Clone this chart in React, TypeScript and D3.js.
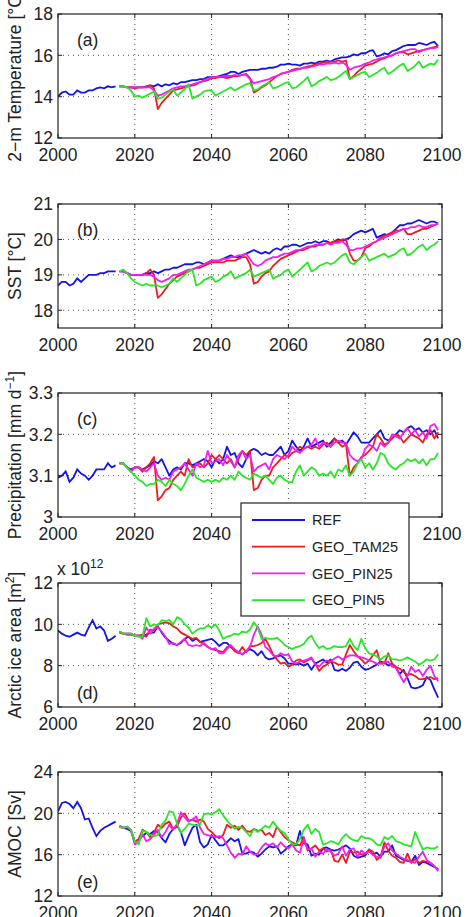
import React, { useEffect, useRef } from 'react';
import * as d3 from 'd3';

const HIST_START = 2000;
const RUN_START = 2016;
const xTicks = [2000, 2020, 2040, 2060, 2080, 2100];

const seriesNames = ['REF', 'GEO_TAM25', 'GEO_PIN25', 'GEO_PIN5'];
const seriesColors = ['#1414e6', '#ee1c1c', '#f01ef0', '#28e628'];

// (a) 2-m temperature [°C]
const tasRefHist = [14.0, 14.2, 14.25, 14.1, 14.1, 14.3, 14.2, 14.2, 14.3, 14.3, 14.4, 14.45, 14.4, 14.5, 14.45, 14.5];
const tasRef = [
  14.5, 14.5, 14.45, 14.45,
  14.45, 14.45, 14.45, 14.5, 14.55, 14.5, 14.6, 14.5, 14.6, 14.55,
  14.65, 14.6, 14.7, 14.7, 14.75, 14.8, 14.8, 14.85, 14.85, 14.95,
  14.95, 14.95, 15.0, 15.05, 15.1, 15.2, 15.2, 15.1, 15.2, 15.25,
  15.3, 15.3, 15.3, 15.35, 15.35, 15.4, 15.4, 15.45, 15.55, 15.55,
  15.6, 15.55, 15.55, 15.5, 15.6, 15.6, 15.65, 15.6, 15.7, 15.7,
  15.75, 15.7, 15.8, 15.85, 15.9, 15.9, 15.95, 16.05, 16.0, 16.1,
  16.1, 16.2, 16.25, 15.95, 16.0, 16.1, 16.05, 16.2, 16.25, 16.35,
  16.45, 16.5, 16.5, 16.5, 16.6, 16.55, 16.5, 16.6, 16.65, 16.45,
];
const tasTam25 = [
  14.5, 14.5, 14.45, 14.45,
  14.4, 14.45, 14.45, 14.45, 14.55, 14.4, 13.4, 13.7, 13.9, 14.1,
  14.3, 14.35, 14.4, 14.45, 14.5, 14.55, 14.6, 14.7, 14.75, 14.8,
  14.9, 14.9, 14.95, 14.95, 14.9, 14.95, 15.0, 15.0, 15.05, 15.1,
  14.9, 14.2, 14.3, 14.45, 14.55, 14.7, 14.85, 15.0, 15.1, 15.15,
  15.2, 15.3, 15.35, 15.35, 15.4, 15.45, 15.5, 15.55, 15.6, 15.65,
  15.65, 15.7, 15.7, 15.75, 15.7, 15.75, 14.85, 15.0, 15.2, 15.35,
  15.5, 15.55, 15.6, 15.7, 15.8, 15.85, 15.95, 16.0, 16.1, 16.15,
  16.15, 16.05, 16.1, 16.15, 16.2, 16.25, 16.3, 16.35, 16.4, 16.45,
];
const tasPin25 = [
  14.5, 14.5, 14.45, 14.45,
  14.45, 14.45, 14.45, 14.45, 14.45, 14.3, 14.05, 14.1, 14.2, 14.3,
  14.4, 14.45, 14.5, 14.5, 14.55, 14.6, 14.65, 14.7, 14.8, 14.85,
  14.95, 14.95, 14.95, 15.0, 15.0, 15.0, 15.05, 15.0, 15.05, 15.05,
  14.85, 14.65, 14.7, 14.75, 14.8, 14.85, 14.95, 15.0, 15.1, 15.15,
  15.2, 15.25, 15.3, 15.35, 15.4, 15.4, 15.45, 15.5, 15.55, 15.55,
  15.6, 15.6, 15.65, 15.6, 15.65, 15.55, 15.3, 15.4, 15.45, 15.5,
  15.6, 15.65, 15.75, 15.8, 15.85, 15.9, 15.95, 16.0, 16.1, 16.15,
  16.2, 16.25, 16.3, 16.3, 16.15, 16.25, 16.3, 16.35, 16.35, 16.4,
];
const tasPin5 = [
  14.5, 14.5, 14.45, 14.3,
  14.0, 14.05, 13.95, 14.05, 14.15, 14.25, 13.9, 13.95, 14.1, 14.25,
  14.35, 14.05, 14.2, 14.35, 14.6, 13.9, 14.0, 14.1, 14.25, 14.3,
  14.3, 14.05, 14.15, 14.25, 14.35, 14.45, 14.3, 14.4, 14.5, 14.6,
  14.65, 14.3, 14.35, 14.5, 14.6, 14.7, 14.4, 14.45, 14.55, 14.65,
  14.7, 14.4, 14.45, 14.6, 14.75, 14.95, 14.5, 14.6, 14.75, 14.85,
  14.95, 14.8, 14.85, 14.95, 15.1, 15.25, 14.85, 14.95, 15.05, 15.15,
  15.2, 14.95, 15.05, 15.15, 15.3, 15.4, 15.1, 15.2, 15.35, 15.5,
  15.6, 15.25, 15.35, 15.5, 15.7, 15.4, 15.5, 15.6, 15.55, 15.8,
];

// (b) sea surface temperature [°C]
const sstRefHist = [18.7, 18.8, 18.8, 18.7, 18.75, 18.9, 18.8, 18.9, 19.0, 19.0, 19.0, 19.05, 19.05, 19.1, 19.1, 19.1];
const sstRef = [
  19.1, 19.1, 19.05, 19.0,
  19.0, 19.0, 19.0, 19.05, 19.05, 19.1, 19.05, 19.1, 19.15, 19.15,
  19.2, 19.2, 19.25, 19.3, 19.3, 19.3, 19.35, 19.35, 19.3, 19.35,
  19.4, 19.4, 19.4, 19.45, 19.5, 19.55, 19.5, 19.5, 19.55, 19.6,
  19.65, 19.7, 19.65, 19.6, 19.65, 19.6, 19.7, 19.75, 19.7, 19.8,
  19.8, 19.85, 19.85, 19.8, 19.85, 19.9, 19.9, 19.95, 19.9, 19.95,
  19.95, 19.9, 19.95, 20.0, 19.95, 20.0, 20.05, 20.15, 20.2, 20.25,
  20.2, 20.25, 20.3, 20.05, 20.1, 20.15, 20.1, 20.2, 20.3, 20.4,
  20.4, 20.45, 20.45, 20.5, 20.55, 20.5, 20.45, 20.5, 20.5, 20.45,
];
const sstTam25 = [
  19.1, 19.1, 19.05, 19.0,
  19.0, 19.0, 19.0, 19.05, 19.15, 19.0, 18.35, 18.45, 18.6, 18.75,
  18.85, 18.95, 19.0, 19.05, 19.1, 19.15, 19.2, 19.2, 19.25, 19.3,
  19.35, 19.35, 19.35, 19.35, 19.4, 19.4, 19.4, 19.45, 19.5, 19.5,
  19.3, 18.75, 18.8, 18.95, 19.05, 19.1, 19.25, 19.35, 19.45, 19.5,
  19.55, 19.6, 19.65, 19.7, 19.7, 19.75, 19.8, 19.8, 19.85, 19.85,
  19.9, 19.9, 19.95, 19.95, 20.0, 20.0, 19.6, 19.4, 19.4, 19.5,
  19.75, 19.8, 19.9, 19.95, 20.05, 20.1, 20.15, 20.2, 20.25, 20.25,
  20.3, 20.15, 20.15, 20.2, 20.25, 20.3, 20.3, 20.35, 20.4, 20.45,
];
const sstPin25 = [
  19.1, 19.1, 19.05, 19.0,
  19.0, 19.0, 19.0, 19.0, 19.0, 18.95, 18.85, 18.8, 18.85, 18.9,
  19.0, 19.0, 19.05, 19.1, 19.15, 19.15, 19.2, 19.25, 19.3, 19.35,
  19.4, 19.4, 19.4, 19.45, 19.45, 19.5, 19.5, 19.55, 19.55, 19.6,
  19.45, 19.3, 19.25, 19.3, 19.4, 19.45, 19.5, 19.5, 19.55, 19.6,
  19.6, 19.65, 19.7, 19.7, 19.75, 19.8, 19.8, 19.85, 19.85, 19.85,
  19.9, 19.85, 19.9, 19.9, 19.95, 19.85, 19.7, 19.7, 19.75, 19.75,
  19.8, 19.85, 19.9, 19.95, 20.0, 20.05, 20.1, 20.15, 20.2, 20.25,
  20.3, 20.3, 20.35, 20.35, 20.4, 20.35, 20.35, 20.4, 20.4, 20.45,
];
const sstPin5 = [
  19.1, 19.15, 19.05, 18.9,
  18.8, 18.75, 18.7, 18.75, 18.7, 18.7, 18.7, 18.65, 18.7, 18.75,
  18.9, 18.8, 18.9, 19.0, 19.1, 19.15, 18.7, 18.75, 18.85, 18.9,
  18.95, 18.8, 18.85, 18.95, 19.0, 19.1, 18.9, 18.95, 19.0, 19.05,
  19.15, 18.95, 19.0, 19.05, 19.1, 19.15, 18.9, 18.95, 19.0, 19.1,
  19.15, 18.95, 19.05, 19.15, 19.25, 19.35, 19.1, 19.15, 19.25, 19.3,
  19.35, 19.3, 19.35, 19.45, 19.55, 19.6, 19.35, 19.3, 19.4, 19.5,
  19.6, 19.4, 19.45, 19.5, 19.55, 19.6, 19.5, 19.55, 19.6, 19.7,
  19.75, 19.55, 19.6, 19.7, 19.8, 19.85, 19.7, 19.8, 19.85, 19.95,
];

// (c) precipitation [mm/day]
const prRefHist = [3.095, 3.1, 3.11, 3.085, 3.095, 3.115, 3.105, 3.1, 3.09, 3.1, 3.115, 3.115, 3.115, 3.13, 3.12, 3.125];
const prRef = [
  3.13, 3.13, 3.12, 3.115,
  3.12, 3.12, 3.115, 3.12, 3.125, 3.135, 3.13, 3.14, 3.12, 3.1,
  3.115, 3.12, 3.115, 3.13, 3.13, 3.125, 3.13, 3.135, 3.14, 3.135,
  3.12, 3.14, 3.13, 3.14, 3.17, 3.15, 3.155, 3.13, 3.12, 3.14,
  3.16, 3.165, 3.16, 3.15, 3.155, 3.15, 3.15, 3.16, 3.17, 3.15,
  3.16, 3.185, 3.17, 3.16, 3.17, 3.19, 3.17, 3.175, 3.18, 3.185,
  3.17, 3.18, 3.19, 3.18, 3.185, 3.175, 3.19, 3.205, 3.195, 3.18,
  3.18, 3.18, 3.19, 3.2, 3.21, 3.19, 3.185, 3.19, 3.2, 3.21,
  3.205, 3.215, 3.22, 3.21, 3.215, 3.205, 3.21, 3.2, 3.21, 3.19,
];
const prTam25 = [
  3.13, 3.13, 3.12, 3.11,
  3.12, 3.12, 3.11, 3.12, 3.13, 3.145, 3.04, 3.05, 3.065, 3.07,
  3.09, 3.1, 3.11, 3.1, 3.14, 3.12, 3.125, 3.13, 3.12, 3.13,
  3.15, 3.14, 3.15, 3.14, 3.13, 3.14, 3.12, 3.14, 3.16, 3.15,
  3.16, 3.065, 3.07, 3.09, 3.1, 3.1, 3.12, 3.13, 3.14, 3.15,
  3.145, 3.155, 3.16, 3.17, 3.165, 3.17, 3.165, 3.17, 3.165, 3.175,
  3.18, 3.17, 3.19, 3.18, 3.17, 3.175, 3.1, 3.12, 3.13, 3.145,
  3.15, 3.16, 3.17, 3.2, 3.19, 3.175, 3.18, 3.19, 3.2, 3.195,
  3.18, 3.19, 3.2, 3.195, 3.19, 3.18, 3.2, 3.21, 3.19, 3.205,
];
const prPin25 = [
  3.13, 3.13, 3.12, 3.11,
  3.12, 3.12, 3.115, 3.11, 3.12, 3.13, 3.1, 3.09, 3.095, 3.09,
  3.11, 3.115, 3.12, 3.13, 3.115, 3.1, 3.13, 3.12, 3.125, 3.16,
  3.13, 3.135, 3.14, 3.125, 3.15, 3.135, 3.12, 3.15, 3.16, 3.14,
  3.15, 3.11, 3.12, 3.125, 3.13, 3.115, 3.14, 3.15, 3.145, 3.14,
  3.15, 3.17, 3.16, 3.155, 3.165, 3.17, 3.175, 3.19, 3.17, 3.18,
  3.175, 3.17, 3.18, 3.185, 3.18, 3.18, 3.15, 3.14, 3.135, 3.14,
  3.165, 3.175, 3.17, 3.16, 3.18, 3.17, 3.18, 3.2, 3.195, 3.19,
  3.205, 3.215, 3.2, 3.21, 3.195, 3.205, 3.19, 3.22, 3.225, 3.21,
];
const prPin5 = [
  3.13, 3.13, 3.12, 3.11,
  3.1, 3.09, 3.085, 3.075, 3.08, 3.08, 3.09, 3.085, 3.075, 3.09,
  3.08, 3.075, 3.065, 3.08, 3.1, 3.115, 3.095, 3.09, 3.085, 3.09,
  3.085, 3.09, 3.085, 3.095, 3.09, 3.1, 3.09, 3.11, 3.1, 3.095,
  3.09, 3.105, 3.1, 3.095, 3.1, 3.09, 3.08, 3.095, 3.1, 3.09,
  3.085, 3.084, 3.11, 3.125, 3.1, 3.11, 3.12, 3.115, 3.1, 3.105,
  3.1, 3.11, 3.095, 3.115, 3.11, 3.125, 3.1, 3.11, 3.13, 3.14,
  3.12, 3.13, 3.115, 3.13, 3.155, 3.15, 3.13, 3.12, 3.115, 3.125,
  3.13, 3.14, 3.135, 3.14, 3.13, 3.14, 3.125, 3.14, 3.14, 3.155,
];

// (d) Arctic sea-ice area [10^12 m²]
const iceRefHist = [9.7, 9.55, 9.45, 9.4, 9.5, 9.6, 9.5, 9.45, 9.85, 10.2, 9.8, 9.9, 9.7, 9.2, 9.3, 9.45];
const iceRef = [
  9.6, 9.55, 9.5, 9.5,
  9.45, 9.45, 9.4, 9.5, 9.6, 9.6, 9.9, 9.6, 9.35, 9.2,
  9.05, 9.0, 9.1, 9.3, 9.4, 9.2, 9.3, 9.15, 9.2, 9.25,
  9.3, 9.15, 8.95, 9.1, 9.1, 8.9, 8.75, 8.65, 8.55, 8.7,
  8.8, 8.7, 8.5, 8.7, 8.4, 8.3, 8.35, 8.45, 8.5, 8.35,
  8.1, 8.1, 8.05, 8.1, 8.0, 8.1, 7.8, 8.1, 8.2, 8.3,
  8.15, 8.3, 7.8, 7.75, 7.85, 7.75, 7.9, 8.15, 8.2, 7.95,
  7.8, 7.85, 7.95, 8.05, 8.2, 8.15, 8.0, 8.1, 7.9, 7.6,
  7.8, 7.4, 6.95, 6.9, 6.95, 7.05, 7.45, 7.3, 6.85, 6.45,
];
const iceTam25 = [
  9.65, 9.55, 9.55, 9.55,
  9.45, 9.45, 9.5, 9.4, 9.75, 9.7, 10.0, 10.05, 10.1, 10.05,
  9.9, 9.8, 9.6, 9.5, 9.4, 9.3, 9.35, 9.15, 9.05, 8.9,
  8.8, 8.75, 8.7, 8.65, 8.9, 8.95, 8.7, 8.6, 8.9, 8.65,
  8.95, 8.95, 9.0, 9.1, 9.3, 8.95, 8.55, 8.3, 8.1, 8.15,
  7.95, 8.05, 8.25, 8.3, 8.15, 8.25, 8.35, 8.1, 7.75, 7.95,
  8.05, 8.2, 8.15, 8.05, 8.05, 8.55, 9.0, 8.7, 8.45, 8.3,
  8.1, 8.25, 8.5, 8.75, 8.1, 8.1, 8.6, 8.1, 7.95, 7.85,
  7.7, 7.55, 7.6, 7.5, 7.35, 7.35, 7.4, 7.45, 7.35, 7.4,
];
const icePin25 = [
  9.65, 9.55, 9.55, 9.55,
  9.45, 9.45, 9.3, 9.85, 9.55, 9.8, 9.85, 9.65, 9.4, 9.05,
  9.1, 9.0, 9.15, 9.3, 9.0, 8.95, 9.0, 8.95, 9.1, 8.9,
  8.8, 8.85, 8.6, 8.6, 8.8, 9.0, 8.8, 8.65, 8.55, 8.7,
  8.9, 9.5, 9.9, 9.5, 8.9, 8.75, 8.5, 8.45, 8.6, 8.5,
  8.55, 8.2, 8.1, 8.2, 8.25, 8.3, 8.4, 8.05, 7.95, 8.15,
  8.25, 8.2, 8.35, 8.45, 8.3, 8.4, 8.5, 8.5, 8.45, 8.4,
  8.35, 8.25, 8.2, 8.1, 8.1, 8.15, 8.2, 7.95, 7.9, 7.55,
  7.2, 7.5, 7.95, 7.7, 7.8, 7.5, 7.8, 8.0, 7.5, 7.25,
];
const icePin5 = [
  9.65, 9.55, 9.55, 9.55,
  9.45, 9.4, 9.4, 10.3, 9.9, 10.0, 9.95, 10.2, 10.15, 10.2,
  10.0, 10.35, 10.25, 10.0, 9.85, 9.55, 9.7, 9.8, 9.8, 9.95,
  9.85, 10.0, 9.7, 9.3, 9.4, 9.45, 9.55, 9.5, 9.65, 9.6,
  9.75, 10.1, 9.85, 9.3, 9.35, 9.3, 9.3, 9.35, 9.2, 9.0,
  8.9, 8.8, 8.9, 8.95, 9.05, 9.3, 9.45, 9.1, 8.85, 8.95,
  8.8, 8.85, 8.95, 8.9, 8.9, 8.95, 9.3, 8.95, 8.75, 9.3,
  8.85, 8.6, 8.55, 8.45, 8.3, 8.45, 8.5, 8.3, 8.3, 8.25,
  8.3, 8.4, 8.3, 8.2, 8.05, 8.15, 8.3, 8.25, 8.3, 8.55,
];

// (e) AMOC strength [Sv]
const amocRefHist = [20.2, 21.0, 21.1, 20.9, 20.5, 21.1, 20.5, 19.4, 19.5, 18.6, 17.8, 18.3, 18.6, 18.8, 19.0, 19.2];
const amocRef = [
  18.8, 18.6, 18.5, 18.3,
  17.2, 17.5, 17.8, 18.1, 18.0, 18.3, 18.2, 17.6, 17.2, 18.0,
  18.5, 18.8, 18.2, 16.9, 17.8, 18.6, 18.9, 17.2, 16.7, 17.0,
  17.9, 17.4, 16.9, 16.9, 17.2, 17.6, 17.3, 17.5, 16.1, 16.1,
  16.3, 16.2, 15.8, 16.1, 16.5, 16.8, 16.7, 16.8, 16.1, 16.4,
  16.8, 17.0, 16.9, 18.3, 17.1, 17.0, 15.9, 16.1, 16.0, 16.6,
  16.7, 16.5, 16.4, 16.5, 16.7, 16.9, 16.6, 15.9, 15.7, 15.8,
  15.9, 16.5, 16.0, 16.2, 15.8, 16.3, 16.3, 16.9, 15.9, 15.7,
  15.5, 15.4, 15.3, 15.9, 15.0, 15.3, 15.2, 15.0, 14.8, 14.6,
];
const amocTam25 = [
  18.7, 18.6, 18.7, 18.4,
  17.2, 17.5, 18.4, 18.2, 17.7, 18.1, 18.9, 18.6, 19.0, 19.2,
  18.5, 18.7, 19.6, 20.0, 19.3, 19.4, 19.2, 19.4, 19.2, 18.5,
  18.2, 17.8, 17.6, 17.9, 18.9, 18.6, 18.8, 18.4, 18.8, 18.3,
  18.2, 18.5, 18.3, 18.4, 17.9, 18.1, 17.7, 18.7, 18.2, 17.7,
  17.4, 17.2, 17.0, 16.9, 17.7, 16.4, 16.6, 16.9, 16.4, 16.6,
  16.3, 16.5, 15.4, 15.3, 16.0, 15.2, 16.3, 16.2, 16.3, 16.0,
  16.1, 16.5, 16.3, 15.5, 15.8, 17.2, 16.4, 15.9, 15.7, 15.3,
  15.2, 16.1, 15.2, 15.6, 15.2, 15.4, 15.3, 15.2, 14.9, 14.5,
];
const amocPin25 = [
  18.7, 18.6, 18.7, 18.4,
  17.0, 17.2, 18.0, 17.3, 17.5, 17.9, 18.4, 17.7, 18.2, 18.9,
  18.4, 19.0, 20.1, 19.6, 19.2, 19.4, 19.7, 18.6, 18.0, 17.9,
  17.8, 17.7, 17.8, 17.6, 16.9, 16.2, 15.7, 16.1, 16.0, 16.8,
  16.3, 16.0, 16.1, 16.7, 17.1, 16.9, 17.1, 16.7, 17.2, 16.8,
  16.6, 17.0, 16.4, 16.2, 17.5, 16.5, 16.6, 15.8, 16.3, 16.1,
  16.5, 16.3, 15.9, 16.1, 16.8, 15.9, 16.5, 16.6, 15.8, 16.4,
  16.1, 16.3, 16.0, 15.8, 15.7, 16.8, 17.1, 16.4, 16.1, 15.8,
  15.6, 15.5, 15.3, 15.2, 15.8, 16.3, 15.5, 15.2, 14.9, 14.4,
];
const amocPin5 = [
  18.7, 18.6, 18.7, 18.4,
  17.3, 17.0, 18.3, 18.2, 17.9, 17.8, 17.9, 18.9, 19.3, 20.2,
  20.1, 19.0, 18.1, 18.5, 19.0, 18.9, 18.8, 18.9, 19.9, 20.0,
  19.9, 20.1, 20.4, 19.8, 19.3, 18.9, 18.5, 18.7, 18.6, 18.2,
  17.8, 18.5, 18.2, 18.5, 18.8, 18.6, 19.2, 18.7, 18.3, 18.1,
  17.5, 17.0, 17.0, 17.5, 18.4, 18.9, 18.0, 18.5, 18.2, 17.0,
  17.1, 17.3, 17.2, 17.0, 17.6, 18.0, 17.6, 17.4, 17.3, 17.8,
  17.6, 17.6, 17.4, 17.0, 16.9, 17.7, 17.5, 17.8, 17.3, 17.2,
  17.0, 16.9, 16.8, 18.2, 17.3, 16.5, 16.7, 16.6, 16.6, 16.8,
];

const panels = [
  { tag: '(a)', top: 14, domain: [12, 18], ticks: [12, 14, 16, 18], label: ['2−m Temperature [°C]'],
    hist: tasRefHist, runs: [tasRef, tasTam25, tasPin25, tasPin5], tagAtTop: true },
  { tag: '(b)', top: 204, domain: [17.5, 21], ticks: [18, 19, 20, 21], label: ['SST [°C]'],
    hist: sstRefHist, runs: [sstRef, sstTam25, sstPin25, sstPin5], tagAtTop: true },
  { tag: '(c)', top: 393, domain: [3, 3.3], ticks: [3, 3.1, 3.2, 3.3], label: ['Precipitation [mm d', '−1', ']'],
    hist: prRefHist, runs: [prRef, prTam25, prPin25, prPin5], tagAtTop: true },
  { tag: '(d)', top: 583, domain: [6, 12], ticks: [6, 8, 10, 12], label: ['Arctic ice area [m', '2', ']'],
    hist: iceRefHist, runs: [iceRef, iceTam25, icePin25, icePin5], tagAtTop: false, exponent: '12' },
  { tag: '(e)', top: 772, domain: [12, 24], ticks: [12, 16, 20, 24], label: ['AMOC [Sv]'],
    hist: amocRefHist, runs: [amocRef, amocTam25, amocPin25, amocPin5], tagAtTop: false },
];

const W = 467;
const H = 917;
const LEFT = 58;
const RIGHT = 442;
const PH = 124;
const FONT = '"Liberation Sans", Arial, Helvetica, sans-serif';

const App = () => {
  const svgRef = useRef(null);

  useEffect(() => {
    const svg = d3.select(svgRef.current);
    svg.selectAll('*').remove();
    svg.append('rect').attr('width', W).attr('height', H).attr('fill', '#fff');

    const x = d3.scaleLinear().domain([2000, 2100]).range([LEFT, RIGHT]);

    panels.forEach((p, pi) => {
      const bottom = p.top + PH;
      const y = d3.scaleLinear().domain(p.domain).range([bottom, p.top]);
      const g = svg.append('g');

      // dotted grid at inner ticks
      xTicks.slice(1, -1).forEach(t => {
        g.append('line').attr('x1', x(t)).attr('x2', x(t)).attr('y1', p.top).attr('y2', bottom)
          .attr('stroke', '#555').attr('stroke-width', 1).attr('stroke-dasharray', '1,4');
      });
      p.ticks.filter(t => t !== p.domain[0] && t !== p.domain[1]).forEach(t => {
        g.append('line').attr('x1', LEFT).attr('x2', RIGHT).attr('y1', y(t)).attr('y2', y(t))
          .attr('stroke', '#555').attr('stroke-width', 1).attr('stroke-dasharray', '1,4');
      });

      const clipId = `clip-${pi}`;
      svg.append('clipPath').attr('id', clipId).append('rect')
        .attr('x', LEFT).attr('y', p.top).attr('width', RIGHT - LEFT).attr('height', PH);

      const line = d3.line().x(d => x(d[0])).y(d => y(d[1]));
      const lines = g.append('g').attr('clip-path', `url(#${clipId})`);

      lines.append('path')
        .datum(p.hist.map((v, i) => [HIST_START + i, v]))
        .attr('d', line).attr('fill', 'none')
        .attr('stroke', seriesColors[0]).attr('stroke-width', 1.8);

      p.runs.forEach((vals, si) => {
        lines.append('path')
          .datum(vals.map((v, i) => [RUN_START + i, v]))
          .attr('d', line).attr('fill', 'none')
          .attr('stroke', seriesColors[si]).attr('stroke-width', 1.8)
          .attr('stroke-linejoin', 'round');
      });

      // frame and inward ticks
      g.append('rect').attr('x', LEFT).attr('y', p.top).attr('width', RIGHT - LEFT).attr('height', PH)
        .attr('fill', 'none').attr('stroke', '#222').attr('stroke-width', 1.2);

      xTicks.forEach(t => {
        g.append('line').attr('x1', x(t)).attr('x2', x(t)).attr('y1', bottom).attr('y2', bottom - 4)
          .attr('stroke', '#222');
        g.append('line').attr('x1', x(t)).attr('x2', x(t)).attr('y1', p.top).attr('y2', p.top + 4)
          .attr('stroke', '#222');
        g.append('text').attr('x', x(t)).attr('y', bottom + 23).attr('text-anchor', 'middle')
          .attr('font-family', FONT).attr('font-size', 17.5).attr('fill', '#222').text(t);
      });

      p.ticks.forEach(t => {
        g.append('line').attr('x1', LEFT).attr('x2', LEFT + 4).attr('y1', y(t)).attr('y2', y(t))
          .attr('stroke', '#222');
        g.append('line').attr('x1', RIGHT).attr('x2', RIGHT - 4).attr('y1', y(t)).attr('y2', y(t))
          .attr('stroke', '#222');
        g.append('text').attr('x', LEFT - 5).attr('y', y(t)).attr('dy', '0.36em')
          .attr('text-anchor', 'end').attr('font-family', FONT).attr('font-size', 17.5)
          .attr('fill', '#222').text(d3.format('~g')(t));
      });

      // rotated axis label
      const label = g.append('text')
        .attr('transform', `translate(21,${p.top + PH / 2}) rotate(-90)`)
        .attr('text-anchor', 'middle').attr('font-family', FONT).attr('font-size', 17.5).attr('fill', '#222');
      label.append('tspan').text(p.label[0]);
      if (p.label.length > 1) {
        label.append('tspan').attr('baseline-shift', 'super').attr('font-size', 12).text(p.label[1]);
        label.append('tspan').text(p.label[2]);
      }

      g.append('text')
        .attr('x', 77).attr('y', p.tagAtTop ? p.top + 32 : bottom - 8)
        .attr('font-family', FONT).attr('font-size', 17.5).attr('fill', '#222').text(p.tag);

      if (p.exponent) {
        const ex = g.append('text').attr('x', 57).attr('y', p.top - 8)
          .attr('font-family', FONT).attr('font-size', 17.5).attr('fill', '#222');
        ex.append('tspan').text('x 10');
        ex.append('tspan').attr('baseline-shift', 'super').attr('font-size', 12).text(p.exponent);
      }
    });

    // legend box overlapping panels (c) and (d)
    const lg = svg.append('g');
    lg.append('rect').attr('x', 241).attr('y', 503).attr('width', 168).attr('height', 113)
      .attr('fill', '#fff').attr('stroke', '#222').attr('stroke-width', 1.2);
    seriesNames.forEach((name, i) => {
      const ly = 520 + i * 26.7;
      lg.append('line').attr('x1', 252).attr('x2', 305).attr('y1', ly).attr('y2', ly)
        .attr('stroke', seriesColors[i]).attr('stroke-width', 1.8);
      lg.append('text').attr('x', 312).attr('y', ly).attr('dy', '0.36em')
        .attr('font-family', FONT).attr('font-size', 14.5).attr('fill', '#222').text(name);
    });
  }, []);

  return (
    <svg ref={svgRef} width={W} height={H}
      style={{ position: 'absolute', left: 0, top: 0, display: 'block' }} />
  );
};

export default App;
